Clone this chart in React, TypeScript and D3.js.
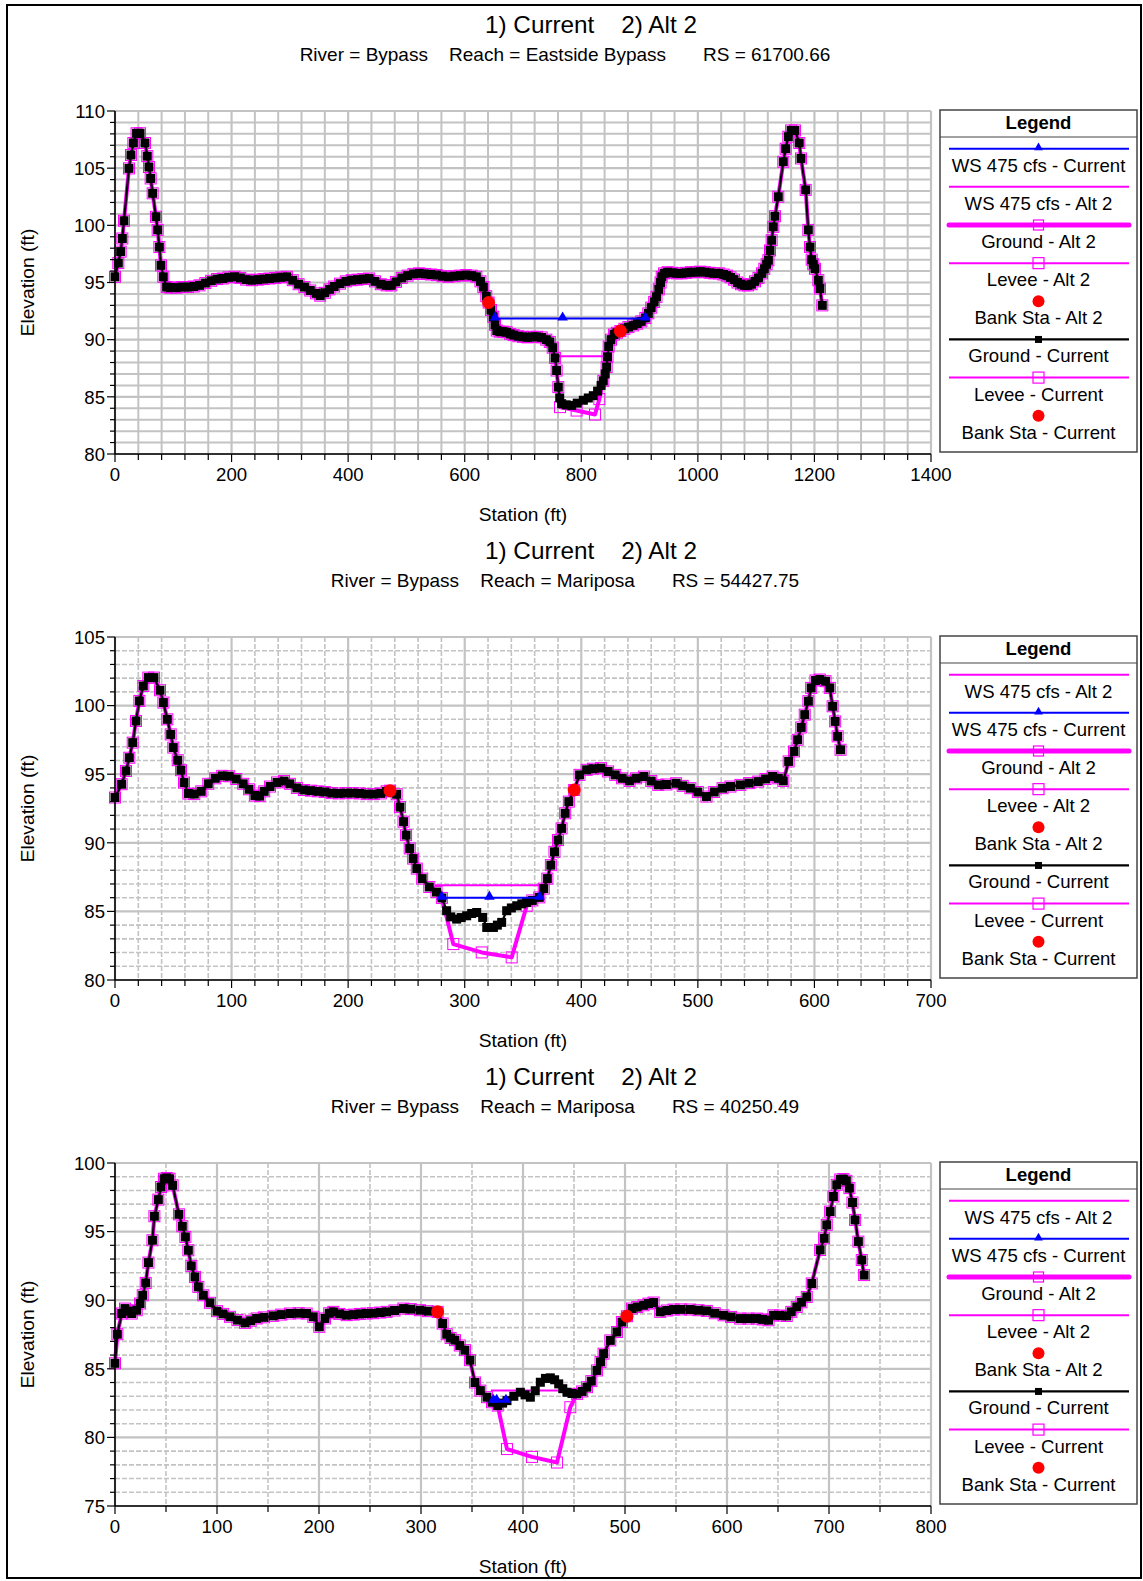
import React from 'react';
import * as d3 from 'd3';

type Pt = [number, number];

const W = 1143;
const H = 1581;
const FONT = '"Liberation Sans", Arial, Helvetica, sans-serif';
const MAGENTA = '#ff00ff';
const BLUE = '#0000ff';
const RED = '#ff0000';
const GRID = '#c3c3c3';

const PLOT_LEFT = 115;
const PLOT_RIGHT = 931;
const PLOT_H = 343;
const LEGEND_X0 = 940;
const LEGEND_X1 = 1137;

// ---------- titles ----------
const planTitle = '1) Current    2) Alt 2';
const subtitles = [
  'River = Bypass    Reach = Eastside Bypass       RS = 61700.66',
  'River = Bypass    Reach = Mariposa       RS = 54427.75',
  'River = Bypass    Reach = Mariposa       RS = 40250.49',
];
const panelTops = [111, 637, 1163];

// ---------- axes ----------
const xDomains: Pt[] = [[0, 1400], [0, 700], [0, 800]];
const yDomains: Pt[] = [[80, 110], [80, 105], [75, 100]];
const xMajorSteps = [200, 100, 100];
const xMinorSteps = [40, 20, 50];
const yMajorStep = 5;
const yMinorStep = 1;
const dashedMinor = [false, true, true];

// ---------- RS 61700.66 ----------
const ground1: Pt[] = [
  [0, 95.5], [5.7, 96.7], [9.7, 97.7], [12.6, 98.85], [15.4, 100.4], [24, 104.98], [27.4, 106.15],
  [31.5, 107.2], [37, 108.05], [43, 108.05], [51.5, 107.2], [55.4, 106.05], [58.3, 105.1], [61.2, 104.1],
  [64.6, 102.8], [70.3, 100.75], [73.2, 99.6], [76.1, 98.1], [78.9, 96.5], [82.9, 95.5], [88.6, 94.6],
  [95, 94.55], [105, 94.55], [115, 94.6], [125, 94.6], [135, 94.65], [145, 94.75], [155, 94.95],
  [165, 95.15], [175, 95.3], [185, 95.35], [195, 95.45], [205, 95.5], [215, 95.4], [225, 95.25],
  [235, 95.2], [245, 95.25], [255, 95.3], [265, 95.35], [275, 95.4], [285, 95.45], [295, 95.5],
  [305, 95.2], [315, 94.85], [325, 94.6], [335, 94.3], [345, 94.05], [352, 93.85], [360, 94.1],
  [368, 94.4], [376, 94.65], [386, 94.9], [396, 95.1], [406, 95.2], [416, 95.25], [426, 95.3],
  [436, 95.35], [446, 95.1], [456, 94.85], [466, 94.75], [474, 94.75], [482, 95.05], [492, 95.4],
  [502, 95.6], [512, 95.75], [522, 95.8], [532, 95.75], [542, 95.7], [552, 95.65], [562, 95.55],
  [572, 95.5], [582, 95.55], [592, 95.6], [602, 95.65], [612, 95.6], [620, 95.5], [627, 95.1],
  [632, 94.6], [637, 93.8], [641, 93.25], [645, 92.6], [649, 92.0], [652, 91.3], [655, 90.8],
  [660, 90.7], [666, 90.7], [672, 90.65], [678, 90.5], [684, 90.4], [692, 90.3], [700, 90.25],
  [708, 90.2], [716, 90.25], [724, 90.25], [732, 90.2], [740, 90.0], [746, 89.8], [751, 89.3],
  [755, 88.4], [757.7, 87.3], [760.6, 85.85], [763, 84.9], [766.3, 84.4], [774, 84.3], [783.5, 84.25],
  [793, 84.45], [803.5, 84.7], [812, 84.9], [820.6, 85.1], [828, 85.5], [834, 86.0], [837.8, 86.4],
  [841, 87.0], [843.5, 87.6], [845, 88.5], [847, 89.4], [851, 90.0], [856, 90.45], [861, 90.6],
  [867, 90.75], [874, 90.95], [881, 91.1], [889, 91.25], [896, 91.4], [903, 91.6], [910, 91.9],
  [915, 92.3], [920, 92.8], [925, 93.3], [929, 93.75], [933, 94.4], [936, 95.0], [938, 95.5],
  [942, 95.8], [948, 95.9], [956, 95.85], [964, 95.8], [972, 95.8], [980, 95.85], [988, 95.9],
  [996, 95.9], [1004, 95.95], [1012, 95.9], [1020, 95.85], [1028, 95.8], [1036, 95.8], [1044, 95.7],
  [1050, 95.6], [1056, 95.45], [1062, 95.25], [1068, 95.0], [1074, 94.85], [1080, 94.75], [1086, 94.75],
  [1092, 94.85], [1098, 95.1], [1104, 95.4], [1110, 95.8], [1114, 96.2], [1118, 96.6], [1121, 96.95],
  [1123.8, 97.8], [1126.6, 98.7], [1129.4, 99.87], [1132.3, 100.8], [1138, 102.5], [1146.6, 105.56],
  [1150.6, 106.7], [1155.2, 107.75], [1160, 108.3], [1166.6, 108.3], [1174, 107.2], [1177, 105.85],
  [1185, 103.1], [1189.5, 99.6], [1192.4, 98.1], [1195.3, 97.0], [1198, 96.6], [1201, 96.2],
  [1206.7, 95.2], [1209.5, 94.47], [1213.5, 93.0],
];
const channelAlt2_1: Pt[] = [
  [757.7, 87.3], [760.6, 85.85], [763.5, 84.1], [792, 83.8], [823.5, 83.45], [831, 84.8],
  [837.8, 86.4], [843.5, 87.6],
];
const wsCurrent1: Pt[] = [[652, 91.85], [768, 91.85], [910, 91.85]];
const wsAlt2_1: Pt[] = [[762, 88.55], [838, 88.55]];
const banks1: Pt[] = [[641, 93.25], [867, 90.75]];

// ---------- RS 54427.75 ----------
const ground2: Pt[] = [
  [0, 93.3], [5.7, 94.27], [9.4, 95.24], [12.3, 96.2], [15.2, 97.3], [18, 98.88], [20.9, 100.34],
  [24.3, 101.43], [28.6, 102.04], [33.4, 102.04], [38.6, 101.12], [41.5, 100.22], [44.9, 99.0],
  [47.8, 97.9], [50, 96.94], [53.8, 96.02], [56.6, 95.29], [59.2, 94.39], [62.9, 93.59], [68, 93.55],
  [74, 93.75], [80, 94.3], [86, 94.7], [92, 94.88], [98, 94.85], [104, 94.65], [110, 94.3], [115, 93.9],
  [120, 93.45], [124, 93.4], [128, 93.75], [133, 94.1], [139, 94.4], [145, 94.5], [150, 94.3],
  [156, 94.0], [162, 93.85], [168, 93.8], [174, 93.75], [180, 93.7], [186, 93.62], [192, 93.6],
  [198, 93.62], [204, 93.62], [210, 93.6], [216, 93.55], [222, 93.55], [228, 93.6], [233, 93.75],
  [236, 93.8], [241.6, 93.54], [244.5, 92.6], [247.5, 91.54], [249.7, 90.56], [252.8, 89.59],
  [255.8, 88.85], [258.9, 88.12], [263.5, 87.39], [269.6, 86.78], [275.8, 86.41], [280.4, 85.98],
  [284.5, 85.05], [288, 84.6], [293.1, 84.44], [297, 84.55], [301.7, 84.68], [306, 84.85],
  [310.3, 84.92], [315.4, 84.56], [318.9, 83.83], [324.6, 83.83], [328, 84.0], [331.7, 84.2],
  [336, 85.05], [340, 85.25], [344.6, 85.41], [349, 85.55], [353.2, 85.65], [358, 85.8], [364, 86.02],
  [367.8, 86.66], [370.9, 87.39], [373.9, 88.37], [377, 89.34], [380, 90.2], [383.1, 91.05],
  [386.2, 92.15], [389.3, 93.0], [393.9, 93.85], [398.5, 94.95], [404.6, 95.32], [410, 95.4],
  [416.9, 95.44], [423, 95.2], [429.1, 94.95], [435, 94.7], [441.4, 94.51], [447, 94.7], [453.7, 94.83],
  [460, 94.5], [466, 94.22], [473, 94.25], [481.3, 94.34], [487, 94.15], [493.6, 93.98], [500, 93.7],
  [507.4, 93.37], [514, 93.7], [521.2, 93.98], [528, 94.1], [536.5, 94.22], [544, 94.35], [551.8, 94.46],
  [558, 94.65], [564.1, 94.83], [569, 94.7], [573.3, 94.51], [577.9, 95.93], [582.5, 96.66],
  [585.6, 97.51], [588.7, 98.41], [591.7, 99.34], [594.8, 100.32], [597.2, 101.29], [600.9, 101.83],
  [604.6, 101.9], [609.5, 101.78], [613.2, 101.29], [615.6, 99.95], [617.8, 98.85], [619.9, 97.76],
  [622.4, 96.78],
];
const channelAlt2_2: Pt[] = [
  [280.4, 85.98], [290.2, 82.62], [314.6, 82.01], [340.3, 81.65], [353.2, 85.41],
];
const wsCurrent2: Pt[] = [[280.3, 86.0], [321.2, 86.0], [364.3, 86.0]];
const wsAlt2_2: Pt[] = [[274.5, 86.9], [367.4, 86.9]];
const banks2: Pt[] = [[235.9, 93.8], [393.9, 93.85]];

// ---------- RS 40250.49 ----------
const ground3: Pt[] = [
  [0, 85.4], [2.3, 87.52], [6.6, 89.03], [9.8, 89.39], [13, 89.2], [16.4, 89.03], [21.3, 89.27],
  [24.6, 89.76], [27.2, 90.36], [30.1, 91.26], [32.8, 92.74], [36.7, 94.37], [38.6, 96.12],
  [42.5, 97.33], [45.1, 98.25], [48, 98.85], [50.7, 98.91], [53.5, 98.85], [56.5, 98.37], [62.7, 96.26],
  [66, 95.39], [69, 94.61], [71.9, 93.64], [74.8, 92.5], [78.4, 91.7], [81.7, 90.97], [86.6, 90.36],
  [93.1, 89.81], [100, 89.2], [106, 89.0], [112.7, 88.79], [120, 88.55], [127.5, 88.35], [133, 88.5],
  [138.9, 88.67], [146, 88.75], [155.2, 88.86], [163, 88.95], [171.6, 89.03], [180, 89.05],
  [187.9, 89.03], [194.4, 88.79], [200.3, 88.06], [205.9, 88.67], [210, 89.05], [214.1, 89.15],
  [220, 89.0], [227.1, 88.91], [234, 88.95], [240, 89.0], [246.7, 89.03], [253, 89.05], [260, 89.1],
  [266.3, 89.15], [274, 89.25], [282.7, 89.39], [290, 89.35], [299, 89.27], [307, 89.2], [316.3, 89.15],
  [321.2, 88.3], [325.2, 87.52], [329, 87.25], [333.3, 87.09], [338, 86.7], [343.1, 86.36], [348, 85.63],
  [353, 84.0], [358.2, 83.41], [364.7, 82.93], [369.6, 82.56], [375.2, 82.32], [380, 82.5],
  [384.3, 82.68], [391, 83.0], [397.4, 83.29], [402, 83.1], [407.2, 82.93], [412, 83.4], [417, 84.02],
  [422, 84.3], [426.8, 84.34], [431, 84.2], [435, 83.9], [439, 83.55], [443.1, 83.29], [448, 83.2],
  [452.9, 83.17], [458, 83.35], [462.7, 83.66], [467, 84.1], [472.5, 84.88], [476, 85.5], [479, 86.1],
  [485.6, 87.07], [492.1, 87.68], [497, 88.41], [501.9, 88.83], [506.8, 89.39], [512, 89.5],
  [518.2, 89.63], [523, 89.75], [528, 89.83], [534.5, 89.15], [541, 89.25], [547.6, 89.32], [555, 89.33],
  [563.9, 89.32], [572, 89.27], [580.2, 89.22], [588, 89.05], [596.6, 88.9], [604, 88.78], [612.9, 88.66],
  [621, 88.66], [629.2, 88.66], [635, 88.6], [640.7, 88.54], [645.6, 88.9], [652, 88.88], [658.6, 88.85],
  [663, 89.15], [668.4, 89.51], [673, 89.85], [678.2, 90.24], [683.1, 91.22], [691.3, 93.66],
  [695.2, 94.51], [697.8, 95.49], [701.1, 96.46], [704.3, 97.56], [707.6, 98.41], [711, 98.8],
  [714.1, 98.83], [717, 98.7], [720, 98.17], [723, 97.12], [725.6, 95.85], [728.8, 94.27],
  [732.1, 92.93], [734.4, 91.83],
];
const channelAlt2_3: Pt[] = [
  [375.2, 82.32], [384.3, 79.15], [408.8, 78.58], [433.3, 78.17], [446.4, 82.2], [452.9, 83.17],
];
const wsCurrent3: Pt[] = [[370.9, 82.67], [374.2, 82.67], [383.3, 82.67]];
const wsAlt2_3: Pt[] = [[368.5, 83.42], [449.5, 83.42]];
const banks3: Pt[] = [[316.3, 89.15], [501.9, 88.83]];

// ---------- legend ----------
type LegendKind =
  | 'wsCur' | 'wsAlt' | 'groundAlt' | 'leveeAlt' | 'bankAlt' | 'groundCur' | 'leveeCur' | 'bankCur';
const legendLabels: Record<LegendKind, string> = {
  wsCur: 'WS 475 cfs - Current',
  wsAlt: 'WS 475 cfs - Alt 2',
  groundAlt: 'Ground - Alt 2',
  leveeAlt: 'Levee - Alt 2',
  bankAlt: 'Bank Sta - Alt 2',
  groundCur: 'Ground - Current',
  leveeCur: 'Levee - Current',
  bankCur: 'Bank Sta - Current',
};
const legendOrder1: LegendKind[] = ['wsCur', 'wsAlt', 'groundAlt', 'leveeAlt', 'bankAlt', 'groundCur', 'leveeCur', 'bankCur'];
const legendOrder23: LegendKind[] = ['wsAlt', 'wsCur', 'groundAlt', 'leveeAlt', 'bankAlt', 'groundCur', 'leveeCur', 'bankCur'];

// Alt 2 ground = current ground with the reshaped channel spliced in
function withChannel(base: Pt[], channel: Pt[]): Pt[] {
  const a = channel[0][0];
  const b = channel[channel.length - 1][0];
  return [...base.filter((p) => p[0] < a), ...channel, ...base.filter((p) => p[0] > b)];
}

interface PanelCfg {
  top: number;
  subtitle: string;
  xDomain: Pt;
  yDomain: Pt;
  xMajor: number;
  xMinor: number;
  dashed: boolean;
  ground: Pt[];
  groundAlt: Pt[];
  wsCur: Pt[];
  wsAlt: Pt[];
  banks: Pt[];
  legend: LegendKind[];
}

const panels: PanelCfg[] = [
  { ground: ground1, groundAlt: withChannel(ground1, channelAlt2_1), wsCur: wsCurrent1, wsAlt: wsAlt2_1, banks: banks1, legend: legendOrder1 },
  { ground: ground2, groundAlt: withChannel(ground2, channelAlt2_2), wsCur: wsCurrent2, wsAlt: wsAlt2_2, banks: banks2, legend: legendOrder23 },
  { ground: ground3, groundAlt: withChannel(ground3, channelAlt2_3), wsCur: wsCurrent3, wsAlt: wsAlt2_3, banks: banks3, legend: legendOrder23 },
].map((d, i) => ({
  ...d,
  top: panelTops[i],
  subtitle: subtitles[i],
  xDomain: xDomains[i],
  yDomain: yDomains[i],
  xMajor: xMajorSteps[i],
  xMinor: xMinorSteps[i],
  dashed: dashedMinor[i],
}));

const triangle = d3.symbol(d3.symbolTriangle, 48)() as string;
const triangleSmall = d3.symbol(d3.symbolTriangle, 34)() as string;

function Legend({ top, order }: { top: number; order: LegendKind[] }) {
  const h = PLOT_H - 1;
  const cx = (LEGEND_X0 + LEGEND_X1) / 2;
  const lx0 = 949;
  const lx1 = 1129;
  return (
    <g>
      <rect x={LEGEND_X0} y={top} width={LEGEND_X1 - LEGEND_X0} height={h} fill="#fff" stroke="#444" strokeWidth={1.5} />
      <line x1={LEGEND_X0} x2={LEGEND_X1} y1={top + 27} y2={top + 27} stroke="#444" strokeWidth={1.2} />
      <text x={cx} y={top + 19} textAnchor="middle" fontSize={18.5} fontWeight="bold" fill="#000">Legend</text>
      {order.map((k, i) => {
        const ly = top + 38.7 + 38.15 * i;
        let mark: React.ReactNode = null;
        if (k === 'wsCur') {
          mark = (
            <g>
              <line x1={lx0} x2={lx1} y1={ly} y2={ly} stroke={BLUE} strokeWidth={2} />
              <path d={triangleSmall} transform={`translate(${cx},${ly - 1})`} fill={BLUE} />
            </g>
          );
        } else if (k === 'wsAlt') {
          mark = <line x1={lx0} x2={lx1} y1={ly} y2={ly} stroke={MAGENTA} strokeWidth={2} />;
        } else if (k === 'groundAlt') {
          mark = (
            <g>
              <line x1={lx0} x2={lx1} y1={ly} y2={ly} stroke={MAGENTA} strokeWidth={5} strokeLinecap="round" />
              <rect x={cx - 5} y={ly - 5} width={10} height={10} fill="none" stroke={MAGENTA} strokeWidth={1.2} />
            </g>
          );
        } else if (k === 'leveeAlt' || k === 'leveeCur') {
          mark = (
            <g>
              <line x1={lx0} x2={lx1} y1={ly} y2={ly} stroke={MAGENTA} strokeWidth={2} />
              <rect x={cx - 5.5} y={ly - 5.5} width={11} height={11} fill="none" stroke={MAGENTA} strokeWidth={1.2} />
            </g>
          );
        } else if (k === 'groundCur') {
          mark = (
            <g>
              <line x1={lx0} x2={lx1} y1={ly} y2={ly} stroke="#000" strokeWidth={2.2} />
              <rect x={cx - 3.5} y={ly - 3.5} width={7} height={7} fill="#000" />
            </g>
          );
        } else {
          mark = <circle cx={cx} cy={ly} r={6} fill={RED} />;
        }
        return (
          <g key={k}>
            {mark}
            <text x={cx} y={ly + 23} textAnchor="middle" fontSize={18.6} fill="#000">{legendLabels[k]}</text>
          </g>
        );
      })}
    </g>
  );
}

function Panel({ cfg }: { cfg: PanelCfg }) {
  const top = cfg.top;
  const bottom = top + PLOT_H;
  const x = d3.scaleLinear().domain(cfg.xDomain).range([PLOT_LEFT, PLOT_RIGHT]);
  const y = d3.scaleLinear().domain(cfg.yDomain).range([bottom, top]);
  const eps = 1e-9;
  const xMinorTicks = d3.range(cfg.xDomain[0], cfg.xDomain[1] + eps, cfg.xMinor);
  const xMajorTicks = d3.range(cfg.xDomain[0], cfg.xDomain[1] + eps, cfg.xMajor);
  const yMinorTicks = d3.range(cfg.yDomain[0], cfg.yDomain[1] + eps, yMinorStep);
  const yMajorTicks = d3.range(cfg.yDomain[0], cfg.yDomain[1] + eps, yMajorStep);
  const isMajorX = (v: number) => Math.abs(v / cfg.xMajor - Math.round(v / cfg.xMajor)) < 1e-6;
  const isMajorY = (v: number) => Math.abs(v / yMajorStep - Math.round(v / yMajorStep)) < 1e-6;
  const line = d3.line<Pt>().x((d) => x(d[0])).y((d) => y(d[1]));
  const midX = (PLOT_LEFT + PLOT_RIGHT) / 2;
  const minorDash = cfg.dashed ? '5 2' : undefined;

  return (
    <g>
      {/* titles */}
      <text x={591} y={top - 78} textAnchor="middle" fontSize={24.3} fill="#000" style={{ whiteSpace: 'pre' }}>{planTitle}</text>
      <text x={565} y={top - 50} textAnchor="middle" fontSize={19} fill="#000" style={{ whiteSpace: 'pre' }}>{cfg.subtitle}</text>

      {/* grid */}
      <g>
        {xMinorTicks.filter((v) => !isMajorX(v)).map((v) => (
          <line key={`gx${v}`} x1={x(v)} x2={x(v)} y1={top} y2={bottom} stroke={GRID} strokeWidth={cfg.dashed ? 1.6 : 2} strokeDasharray={minorDash} />
        ))}
        {yMinorTicks.filter((v) => !isMajorY(v)).map((v) => (
          <line key={`gy${v}`} x1={PLOT_LEFT} x2={PLOT_RIGHT} y1={y(v)} y2={y(v)} stroke={GRID} strokeWidth={cfg.dashed ? 1.6 : 2} strokeDasharray={minorDash} />
        ))}
        {xMajorTicks.map((v) => (
          <line key={`Gx${v}`} x1={x(v)} x2={x(v)} y1={top} y2={bottom} stroke={GRID} strokeWidth={2.2} />
        ))}
        {yMajorTicks.map((v) => (
          <line key={`Gy${v}`} x1={PLOT_LEFT} x2={PLOT_RIGHT} y1={y(v)} y2={y(v)} stroke={GRID} strokeWidth={2.2} />
        ))}
      </g>

      {/* Ground - Alt 2 */}
      <path d={line(cfg.groundAlt) ?? ''} fill="none" stroke={MAGENTA} strokeWidth={4} strokeLinejoin="round" />
      {cfg.groundAlt.map((d, i) => (
        <rect key={`ga${i}`} x={x(d[0]) - 5.5} y={y(d[1]) - 5.5} width={11} height={11} fill="none" stroke={MAGENTA} strokeWidth={1} />
      ))}

      {/* WS - Alt 2 */}
      <path d={line(cfg.wsAlt) ?? ''} fill="none" stroke={MAGENTA} strokeWidth={2} />

      {/* Ground - Current */}
      <path d={line(cfg.ground) ?? ''} fill="none" stroke="#000" strokeWidth={2.2} strokeLinejoin="round" />
      {cfg.ground.map((d, i) => (
        <rect key={`gc${i}`} x={x(d[0]) - 4.5} y={y(d[1]) - 4.5} width={9} height={9} fill="#000" />
      ))}

      {/* WS - Current */}
      <path d={line(cfg.wsCur) ?? ''} fill="none" stroke={BLUE} strokeWidth={2} />
      {cfg.wsCur.map((d, i) => (
        <path key={`wc${i}`} d={triangle} transform={`translate(${x(d[0])},${y(d[1]) - 1})`} fill={BLUE} />
      ))}

      {/* Bank stations (Alt 2 and Current coincide) */}
      {cfg.banks.map((d, i) => (
        <circle key={`bk${i}`} cx={x(d[0])} cy={y(d[1])} r={6.5} fill={RED} />
      ))}

      {/* axes */}
      <line x1={PLOT_LEFT} x2={PLOT_LEFT} y1={top} y2={bottom} stroke="#000" strokeWidth={1.6} />
      <line x1={PLOT_LEFT} x2={PLOT_RIGHT} y1={bottom} y2={bottom} stroke="#000" strokeWidth={1.6} />
      {xMinorTicks.map((v) => (
        <line key={`tx${v}`} x1={x(v)} x2={x(v)} y1={bottom} y2={bottom + (isMajorX(v) ? 8 : 6)} stroke="#000" strokeWidth={1.2} />
      ))}
      {yMinorTicks.map((v) => (
        <line key={`ty${v}`} x1={PLOT_LEFT - (isMajorY(v) ? 8 : 5)} x2={PLOT_LEFT} y1={y(v)} y2={y(v)} stroke="#000" strokeWidth={1.2} />
      ))}
      {xMajorTicks.map((v) => (
        <text key={`lx${v}`} x={x(v)} y={bottom + 27} textAnchor="middle" fontSize={18.6} fill="#000">{v}</text>
      ))}
      {yMajorTicks.map((v) => (
        <text key={`ly${v}`} x={105} y={y(v) + 6.8} textAnchor="end" fontSize={18.6} fill="#000">{v}</text>
      ))}
      <text x={midX} y={bottom + 66.5} textAnchor="middle" fontSize={19.2} fill="#000">Station (ft)</text>
      <text transform={`translate(34,${(top + bottom) / 2}) rotate(-90)`} textAnchor="middle" fontSize={19.2} fill="#000">Elevation (ft)</text>

      <Legend top={top - 1} order={cfg.legend} />
    </g>
  );
}

export default function App() {
  return (
    <svg
      width={W}
      height={H}
      viewBox={`0 0 ${W} ${H}`}
      style={{ position: 'absolute', left: 0, top: 0, background: '#fff' }}
      fontFamily={FONT}
    >
      <rect x={0} y={0} width={W} height={H} fill="#fff" />
      <rect x={7} y={5} width={1134} height={1573} fill="none" stroke="#000" strokeWidth={2} />
      {panels.map((p, i) => (
        <Panel key={i} cfg={p} />
      ))}
    </svg>
  );
}
